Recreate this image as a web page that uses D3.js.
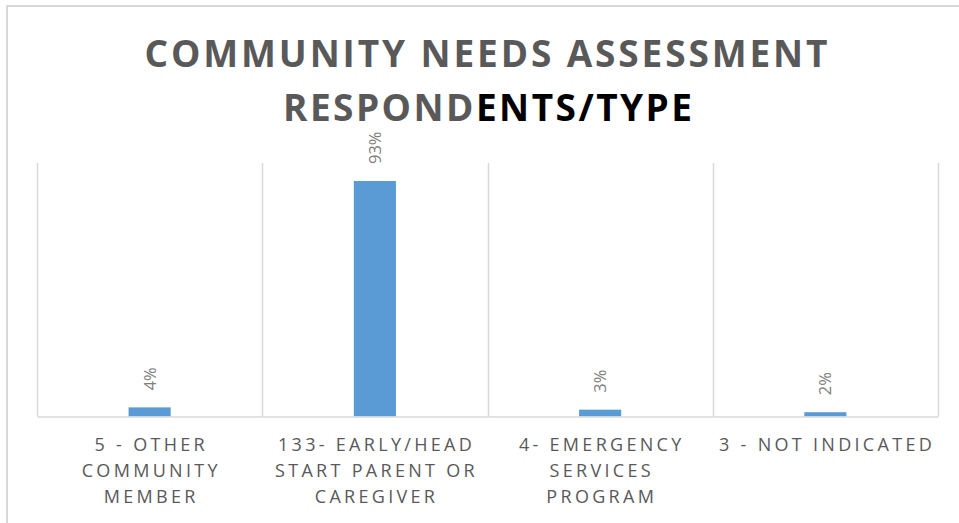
<!DOCTYPE html>
<html>
<head>
<meta charset="utf-8">
<script src="https://cdn.jsdelivr.net/npm/d3@7"></script>
<style>
  html, body { margin: 0; padding: 0; background: #fff; }
  svg { display: block; }
</style>
</head>
<body>
<script>
// ---- data ----
const categories = [
  "5 - OTHER\nCOMMUNITY\nMEMBER",
  "133- EARLY/HEAD\nSTART PARENT OR\nCAREGIVER",
  "4- EMERGENCY\nSERVICES\nPROGRAM",
  "3 - NOT INDICATED"
];
const values = [0.036, 0.929, 0.027, 0.017];
const valueLabels = ["4%", "93%", "3%", "2%"];
const titleLine1 = "COMMUNITY NEEDS ASSESSMENT";
const titleLine2a = "RESPOND";
const titleLine2b = "ENTS/TYPE";

// ---- layout ----
const W = 959, H = 523;
const plot = { left: 37, right: 938, top: 163, bottom: 416.5 };

const svg = d3.select("body").append("svg").attr("width", W).attr("height", H);

// outer chart border (extends beyond the visible window at right/bottom)
svg.append("rect")
  .attr("x", 7).attr("y", 6).attr("width", 1000).attr("height", 600)
  .attr("fill", "#fff").attr("stroke", "#d9d9d9").attr("stroke-width", 2);

// title
const title = svg.append("g").attr("font-family", "'Liberation Sans Narrow', 'Open Sans', sans-serif")
  .attr("font-weight", "bold").attr("font-size", 37).attr("text-anchor", "middle");
title.append("text").attr("x", 486).attr("y", 67)
  .attr("fill", "#595959")
  .attr("textLength", 683).attr("lengthAdjust", "spacing")
  .text(titleLine1);
const t2 = title.append("text").attr("x", 487.5).attr("y", 121)
  .attr("textLength", 409).attr("lengthAdjust", "spacing");
t2.append("tspan").attr("fill", "#595959").text(titleLine2a);
t2.append("tspan").attr("fill", "#000").text(titleLine2b);

// scales
const x = d3.scaleBand().domain(categories).range([plot.left, plot.right]).padding(0);
const y = d3.scaleLinear().domain([0, 1]).range([plot.bottom, plot.top]);
const barW = x.bandwidth() * 0.187;

// vertical gridlines at category boundaries
const bounds = categories.map(c => x(c)).concat([plot.right]);
svg.append("g").selectAll("line").data(bounds).join("line")
  .attr("x1", d => Math.round(d) + 0.5).attr("x2", d => Math.round(d) + 0.5)
  .attr("y1", plot.top).attr("y2", plot.bottom)
  .attr("stroke", "#d9d9d9").attr("stroke-width", 1.5);

// bars
svg.append("g").selectAll("rect").data(values).join("rect")
  .attr("x", (d, i) => x(categories[i]) + x.bandwidth() / 2 - barW / 2)
  .attr("width", barW)
  .attr("y", d => y(d))
  .attr("height", d => plot.bottom - y(d))
  .attr("fill", "#5b9bd5");

// baseline axis
const axis = d3.axisBottom(x).tickSize(0).tickFormat("");
const axG = svg.append("g").attr("transform", `translate(0,${plot.bottom})`).call(axis);
axG.select(".domain").attr("stroke", "#d9d9d9").attr("stroke-width", 1.5);

// value labels (rotated)
svg.append("g").selectAll("text").data(values).join("text")
  .attr("transform", (d, i) => {
    const cx = x(categories[i]) + x.bandwidth() / 2;
    return `translate(${cx + 6},${y(d) - 17}) rotate(-90)`;
  })
  .attr("font-family", "'Open Sans', sans-serif")
  .attr("font-size", 16.5)
  .attr("fill", "#7f7f7f")
  .attr("text-anchor", "start")
  .text((d, i) => valueLabels[i]);

// category labels
const ls = 3.3;
const catG = svg.append("g").attr("font-family", "'Open Sans', sans-serif")
  .attr("font-size", 18).attr("fill", "#595959").attr("text-anchor", "middle")
  .attr("letter-spacing", ls);
categories.forEach(c => {
  const cx = x(c) + x.bandwidth() / 2 + ls / 2;
  const t = catG.append("text");
  c.split("\n").forEach((line, j) => {
    t.append("tspan").attr("x", cx).attr("y", 451 + j * 26).text(line);
  });
});
</script>
</body>
</html>
